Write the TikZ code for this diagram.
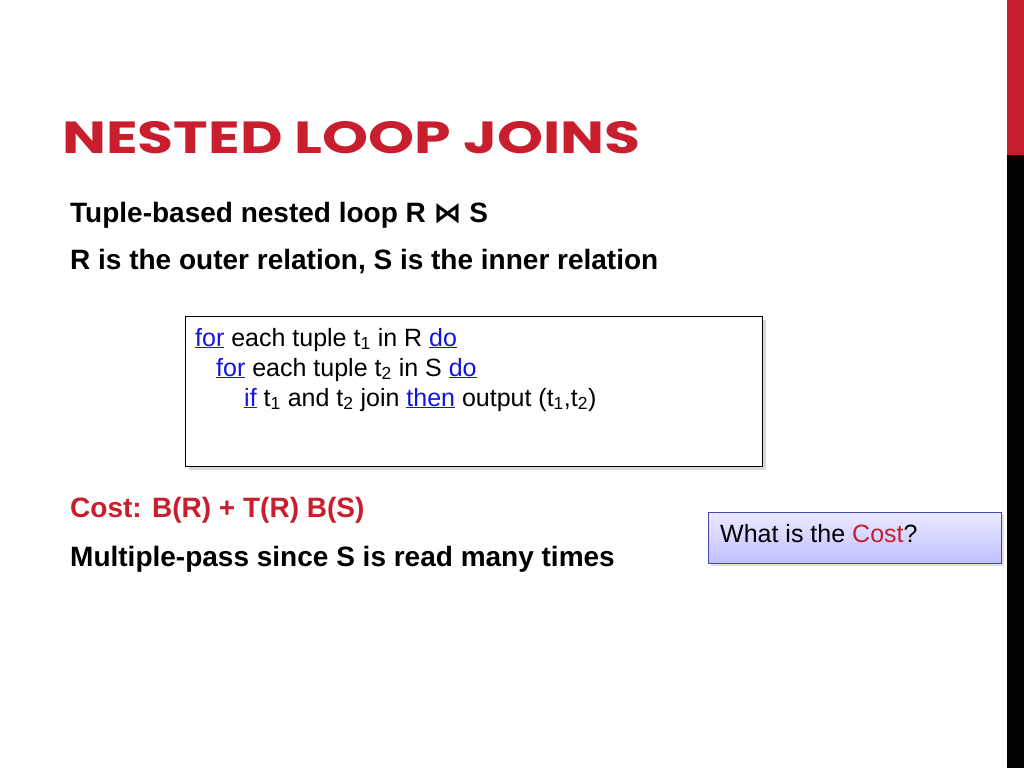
\documentclass[tikz,border=0pt]{standalone}
\usepackage{fontspec}
\setmainfont{Liberation Sans}
\newfontfamily\titlefont[FakeStretch=1.3]{Poppins}
\newfontfamily\symfont{DejaVu Sans}
\usetikzlibrary{shadows}
\definecolor{tred}{RGB}{200,30,45}
\definecolor{kblue}{RGB}{20,20,220}
\newcommand{\kw}[1]{\textcolor{kblue}{\underline{#1}}}
\tikzset{body/.style={anchor=base west,inner sep=0,font=\fontsize{28}{32}\selectfont\bfseries},
code/.style={anchor=base west,inner sep=0,font=\fontsize{25}{29}\selectfont}}
\begin{document}
\begin{tikzpicture}[x=1pt,y=-1pt]
\useasboundingbox (0,0) rectangle (1024,768);
\fill[white] (0,0) rectangle (1024,768);
\fill[tred] (1007,0) rectangle (1024,155);
\fill[black] (1007,155) rectangle (1024,768);
\node[anchor=base west,inner sep=0,text=tred,font=\titlefont\fontsize{45}{50}\selectfont\bfseries] (title) at (62,153) {NESTED LOOP JOINS};
\node[body] (l1) at (70,222) {Tuple-based nested loop R {\symfont ⋈} S};
\node[body] (l2) at (70,269) {R is the outer relation, S is the inner relation};
\node[draw,thick,fill=white,drop shadow={shadow xshift=4pt,shadow yshift=-4pt,opacity=0.3},minimum width=577,minimum height=150,anchor=north west] (box) at (185,316) {};
\node[code] (c1) at (195,346) {\kw{for} each tuple t\textsubscript{1} in R \kw{do}};
\node[code] (c2) at (216,376) {\kw{for} each tuple t\textsubscript{2} in S \kw{do}};
\node[code] (c3) at (244,406) {\kw{if} t\textsubscript{1} and t\textsubscript{2} join \kw{then} output (t\textsubscript{1},t\textsubscript{2})};
\node[body,text=tred] (cost) at (70,517) {Cost: B(R) + T(R) B(S)};
\node[body] (l4) at (70,566) {Multiple-pass since S is read many times};
\node[draw=blue!45!gray,top color=blue!8,bottom color=blue!25,drop shadow={shadow xshift=3pt,shadow yshift=-3pt,opacity=0.25},minimum width=293,minimum height=51,anchor=north west] (q) at (708,512) {};
\node[code] (qt) at (720,542) {What is the \textcolor{tred}{Cost}?};
\end{tikzpicture}
\end{document}
